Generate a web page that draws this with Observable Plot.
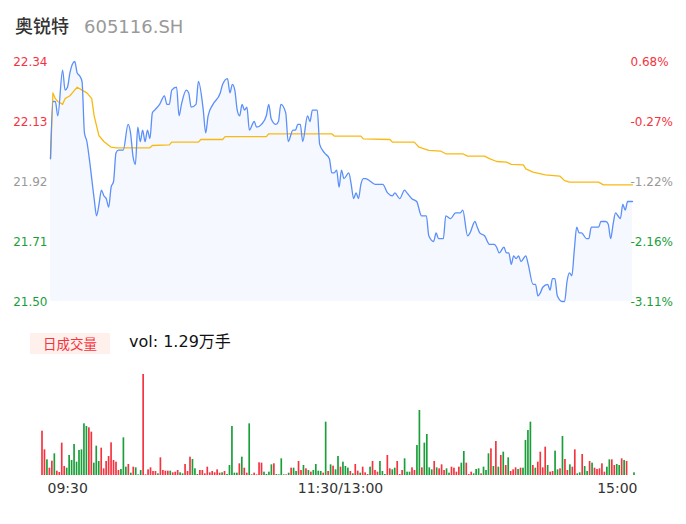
<!DOCTYPE html>
<html><head><meta charset="utf-8">
<script src="https://cdn.jsdelivr.net/npm/d3@7"></script>
<script src="https://cdn.jsdelivr.net/npm/@observablehq/plot@0.6"></script>
<style>
html,body{margin:0;padding:0;background:#fff}
#wrap{position:relative;width:686px;height:524px;overflow:hidden;font-family:"DejaVu Sans","Noto Sans CJK SC",sans-serif}
#wrap svg{position:absolute;left:0}
.title{position:absolute;left:15px;top:13px;line-height:24px;white-space:nowrap}
.name{font-family:"Noto Sans CJK SC",sans-serif;font-size:18px;color:#333;font-weight:500}
.code{font-family:"DejaVu Sans",sans-serif;font-size:18px;color:#999;margin-left:15px}
.tag{position:absolute;left:30px;top:333px;width:80px;height:21px;line-height:21px;background:#fff0ec;color:#f5333f;text-align:center;font-family:"Noto Sans CJK SC",sans-serif;font-size:13.5px}
.vol{position:absolute;left:129px;top:332px;line-height:20px;font-size:16px;color:#111;white-space:nowrap}
</style></head>
<body><div id="wrap">
<div class="title"><span class="name">奥锐特</span><span class="code">605116.SH</span></div>
<div class="tag">日成交量</div>
<div class="vol">vol: 1.29万手</div>
</div>
<script>
// minute index (0 = 09:30, 120 = 11:30/13:00, 240 = 15:00) and price
const priceMinute = [0,1,2,3,5,6,7,8,10,11,12,13,14,15,16,18,19,20,21,22,23,24,25,26,27,28,30,32,33,34,35,36,37,38,39,40,41,42,43,45,47,48,49,50,52,53,54,56,57,58,60,61,63,64,65,67,70,71,73,74,75,76,77,78,79,80,81,82,84,85,87,89,90,91,93,94,95,97,98,100,101,102,103,104,106,107,108,110,111,113,115,116,117,118,119,120,121,123,124,125,126,127,128,129,130,132,134,137,139,141,142,144,146,147,149,151,153,155,156,158,159,160,162,163,165,167,169,170,172,173,175,176,177,179,181,183,184,185,187,188,189,190,191,192,193,194,196,197,199,200,201,202,203,205,206,207,208,209,211,212,213,214,215,216,217,218,219,221,222,223,224,226,227,229,230,231,232,233,234,235,236,237,238,239,240];
const priceValue = [22.00,22.20,22.20,22.15,22.31,22.24,22.25,22.30,22.34,22.30,22.29,22.27,22.09,22.06,22.00,21.86,21.80,21.84,21.89,21.87,21.86,21.83,21.90,21.92,22.02,22.03,22.03,22.12,22.09,22.01,21.98,22.11,22.06,22.10,22.06,22.10,22.07,22.16,22.17,22.19,22.22,22.19,22.19,22.24,22.25,22.15,22.19,22.24,22.23,22.18,22.19,22.27,22.17,22.09,22.15,22.19,22.23,22.26,22.28,22.23,22.26,22.24,22.17,22.15,22.19,22.17,22.18,22.10,22.13,22.11,22.12,22.15,22.19,22.14,22.12,22.13,22.19,22.16,22.06,22.10,22.10,22.12,22.12,22.06,22.15,22.13,22.17,22.17,22.05,22.02,22.00,21.95,21.95,21.96,21.90,21.96,21.93,21.95,21.91,21.86,21.88,21.86,21.91,21.93,21.93,21.92,21.91,21.91,21.88,21.87,21.88,21.86,21.89,21.88,21.86,21.85,21.80,21.80,21.73,21.71,21.74,21.72,21.72,21.80,21.79,21.81,21.81,21.82,21.73,21.74,21.78,21.76,21.74,21.73,21.70,21.70,21.69,21.67,21.69,21.67,21.67,21.63,21.66,21.65,21.66,21.64,21.66,21.63,21.56,21.56,21.52,21.53,21.55,21.56,21.54,21.58,21.58,21.52,21.50,21.50,21.57,21.60,21.59,21.68,21.76,21.74,21.74,21.72,21.72,21.76,21.76,21.76,21.78,21.78,21.77,21.72,21.77,21.81,21.80,21.79,21.84,21.82,21.85,21.85,21.85];
// average price line
const avgMinute = [0,1,2,3,5,6,8,9,11,13,15,17,18,20,22,25,27,41,42,49,50,61,62,71,72,89,90,116,117,128,129,140,141,150,152,156,161,163,170,172,179,181,184,188,190,195,196,199,204,210,212,214,226,228,240];
const avgValue = [22.000,22.230,22.210,22.200,22.190,22.210,22.220,22.230,22.250,22.240,22.230,22.210,22.150,22.080,22.060,22.040,22.038,22.038,22.046,22.048,22.058,22.058,22.067,22.067,22.077,22.077,22.087,22.087,22.079,22.079,22.069,22.067,22.058,22.058,22.040,22.029,22.026,22.017,22.017,22.009,22.009,22.000,21.990,21.988,21.980,21.978,21.964,21.953,21.943,21.939,21.923,21.918,21.918,21.908,21.908];
// per-minute volume (relative units) and direction (r = up, g = down)
const volumes = [133,77,47,22,43,65,13,9,97,27, 22,60,45,93,40,75,77,155,147,143, 130,37,88,42,82,20,42,57,98,45, 40,15,18,113,25,33,7,25,23,2, 15,303,2,17,23,12,12,5,53,15, 13,13,13,8,10,15,8,5,33,12, 55,48,20,3,15,15,5,25,8,12, 8,17,7,8,12,3,30,147,7,7, 35,55,22,7,155,2,7,2,38,37, 10,3,10,32,35,3,2,50,2,2, 7,22,22,12,42,15,30,20,15,10, 15,33,13,12,7,160,12,32,28,17, 57,25,40,27,22,12,5,33,13,7, 25,8,3,25,42,15,10,42,12,3, 60,20,17,22,42,3,15,50,10,10, 23,15,90,195,23,97,123,23,17,42, 23,20,32,15,20,7,25,22,10,25, 37,72,37,3,10,5,18,20,5,25, 15,65,80,27,102,25,60,70,30,53, 12,17,23,18,22,22,105,135,160,30, 22,40,70,23,85,30,10,12,73,17, 20,117,48,15,32,25,77,5,8,63, 27,12,42,37,22,18,20,35,10,25, 47,47,30,33,30,50,45,42,0,0, 8];
const volDir = ("rrgrrgrrrr"+"gggggggggr"+"rgggrrrrrr"+"rrgggrgrgg"+"grrrrrrgrr"+"rrgrrrggrr"+"rgggrrrrrr"+"rrrgrggggg"+"rgrrggrrrr"+"ggggrggggr"+"grggrrgrgr"+"ggggrgrgrg"+"grgggrgrrg"+"rrrgrrrggg"+"rrggrrrggg"+"rrggrggggr"+"grrrggrrrr"+"ggrrrgggrg"+"ggrgrgrgrg"+"rrrgrggggr"+"grrrrgrrgg"+"rgrrgrrggr"+"ggrgrrrrrg"+"grrggrgrgg"+"g").split("");
const priceTicks = [22.34, 22.13, 21.92, 21.71, 21.50];
const pctTicks = ["0.68%", "-0.27%", "-1.22%", "-2.16%", "-3.11%"];
const tickTone = ["up", "up", "flat", "down", "down"];
const timeTickMinute = [0, 120, 240];
const timeTickLabel = ["09:30", "11:30/13:00", "15:00"];

const RED = "#f5333f", GREEN = "#1a9e3a", GRAY = "#999999";
const toneColor = {up: RED, flat: GRAY, down: GREEN};

const price = priceMinute.map((m, k) => ({m, p: priceValue[k]}));
const avg = avgMinute.map((m, k) => ({m, p: avgValue[k]}));
const vol = volumes.map((v, i) => ({i, v, c: volDir[i] === "r" ? RED : GREEN}));
const yTicks = priceTicks.map((p, k) => ({p, pct: pctTicks[k], c: toneColor[tickTone[k]]}));
const tTicks = timeTickMinute.map((m, k) => ({m, label: timeTickLabel[k]}));
const yMin = priceTicks[priceTicks.length - 1];

const font = '"DejaVu Sans", sans-serif';
const topChart = Plot.plot({
  width: 686, height: 320,
  marginLeft: 50, marginRight: 54, marginTop: 61, marginBottom: 19,
  style: {fontFamily: font, fontSize: "12px", background: "transparent", overflow: "visible"},
  x: {domain: [0, 240], axis: null},
  y: {domain: [priceTicks[priceTicks.length - 1], priceTicks[0]], axis: null},
  marks: [
    Plot.areaY(price, {x: "m", y1: () => yMin, y2: "p", fill: "#f5f8fe", curve: "monotone-x"}),
    Plot.line(avg, {x: "m", y: "p", stroke: "#f9b913", strokeWidth: 1.3}),
    Plot.line(price, {x: "m", y: "p", stroke: "#5b8ff9", strokeWidth: 1.3, curve: "monotone-x"}),
    Plot.text(yTicks, {frameAnchor: "left", y: "p", text: d => d.p.toFixed(2), fill: "c", textAnchor: "end", dx: -3, dy: 1, fontSize: 12}),
    Plot.text(yTicks, {frameAnchor: "right", y: "p", text: "pct", fill: "c", textAnchor: "start", dx: -2, dy: 1, fontSize: 12})
  ]
});
topChart.style.top = "0px";

const botChart = Plot.plot({
  width: 686, height: 204,
  marginLeft: 42, marginRight: 52, marginTop: 54, marginBottom: 49,
  style: {fontFamily: font, fontSize: "14px", background: "transparent", overflow: "visible"},
  x: {domain: [0, 240], axis: null},
  y: {domain: [0, d3.max(volumes)], axis: null},
  marks: [
    Plot.rectY(vol, {x1: d => d.i - 0.34, x2: d => d.i + 0.34, y: "v", fill: "c"}),
    Plot.text(tTicks.slice(0, 1), {x: "m", text: "label", frameAnchor: "bottom", dy: 17, dx: 5, textAnchor: "start", fill: "#333", fontSize: 14}),
    Plot.text(tTicks.slice(1, 2), {x: "m", text: "label", frameAnchor: "bottom", dy: 17, dx: 2, textAnchor: "middle", fill: "#333", fontSize: 14}),
    Plot.text(tTicks.slice(2, 3), {x: "m", text: "label", frameAnchor: "bottom", dy: 17, dx: 3, textAnchor: "end", fill: "#333", fontSize: 14})
  ]
});
botChart.style.top = "320px";

const wrap = document.getElementById("wrap");
wrap.appendChild(topChart);
wrap.appendChild(botChart);
</script>
</body></html>
